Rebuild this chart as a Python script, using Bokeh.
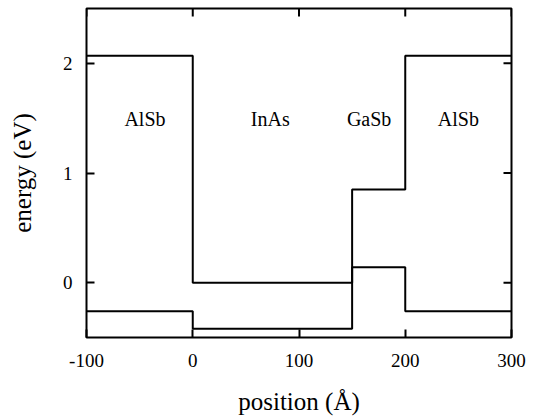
import math
from bokeh.plotting import figure
from bokeh.models import Label, FixedTicker, Range1d
from bokeh.embed import file_html
from bokeh.resources import INLINE

# data
boundaries = [-100, 0, 150, 200, 300]
conduction = [2.07, 0.0, 0.85, 2.07]
valence = [-0.26, -0.42, 0.14, -0.26]
layer_names = ["AlSb", "InAs", "GaSb", "AlSb"]
label_x = [-45, 73, 166, 250]
label_y = [1.49, 1.49, 1.49, 1.49]
x_ticks = [-100, 0, 100, 200, 300]
x_tick_labels = ["-100", "0", "100", "200", "300"]
y_ticks = [0, 1, 2]
x_min, x_max = -100, 300
y_min, y_max = -0.5, 2.5

FONT = "'Liberation Serif', serif"

p = figure(width=535, height=418, output_backend="svg", toolbar_location=None,
           x_range=Range1d(x_min, x_max), y_range=Range1d(y_min, y_max),
           min_border_left=86, min_border_right=24, min_border_top=8, min_border_bottom=81,
           x_axis_label="position (Å)", y_axis_label="energy (eV)")
p.xgrid.visible = False
p.ygrid.visible = False
p.outline_line_color = "black"
p.outline_line_width = 2
p.background_fill_color = "white"
p.border_fill_color = "white"

p.step(boundaries, conduction + [conduction[-1]], mode="after", line_color="black", line_width=2)
p.step(boundaries, valence + [valence[-1]], mode="after", line_color="black", line_width=2)

def style(ax):
    ax.axis_line_color = None
    ax.major_tick_in = 8
    ax.major_tick_out = 0
    ax.minor_tick_line_color = None
    ax.major_tick_line_width = 2
    ax.major_tick_line_color = "black"
    ax.major_label_text_font = FONT
    ax.major_label_text_font_size = "19px"
    ax.major_label_text_color = "black"
    ax.axis_label_text_font = FONT
    ax.axis_label_text_font_style = "normal"
    ax.axis_label_text_font_size = "25px"
    ax.axis_label_text_color = "black"

xa = p.xaxis[0]
xa.ticker = FixedTicker(ticks=x_ticks)
xa.major_label_overrides = {t: s for t, s in zip(x_ticks, x_tick_labels)}
style(xa)
xa.major_label_standoff = 16
xa.axis_label_standoff = 18

ya = p.yaxis[0]
ya.ticker = FixedTicker(ticks=y_ticks)
style(ya)
ya.major_label_standoff = 14
ya.axis_label_standoff = 24

# mirrored ticks on top and right (inward)
p.ray(x=x_ticks, y=[y_max] * len(x_ticks), length=8, length_units="screen",
      angle=-math.pi / 2, line_color="black", line_width=2)
p.ray(x=[x_max] * len(y_ticks), y=y_ticks, length=8, length_units="screen",
      angle=math.pi, line_color="black", line_width=2)

for name, lx, ly in zip(layer_names, label_x, label_y):
    p.add_layout(Label(x=lx, y=ly, text=name, text_font=FONT, text_font_size="20px",
                       text_align="center", text_baseline="middle", text_color="black"))

open("out.html", "w").write(file_html(p, INLINE))
